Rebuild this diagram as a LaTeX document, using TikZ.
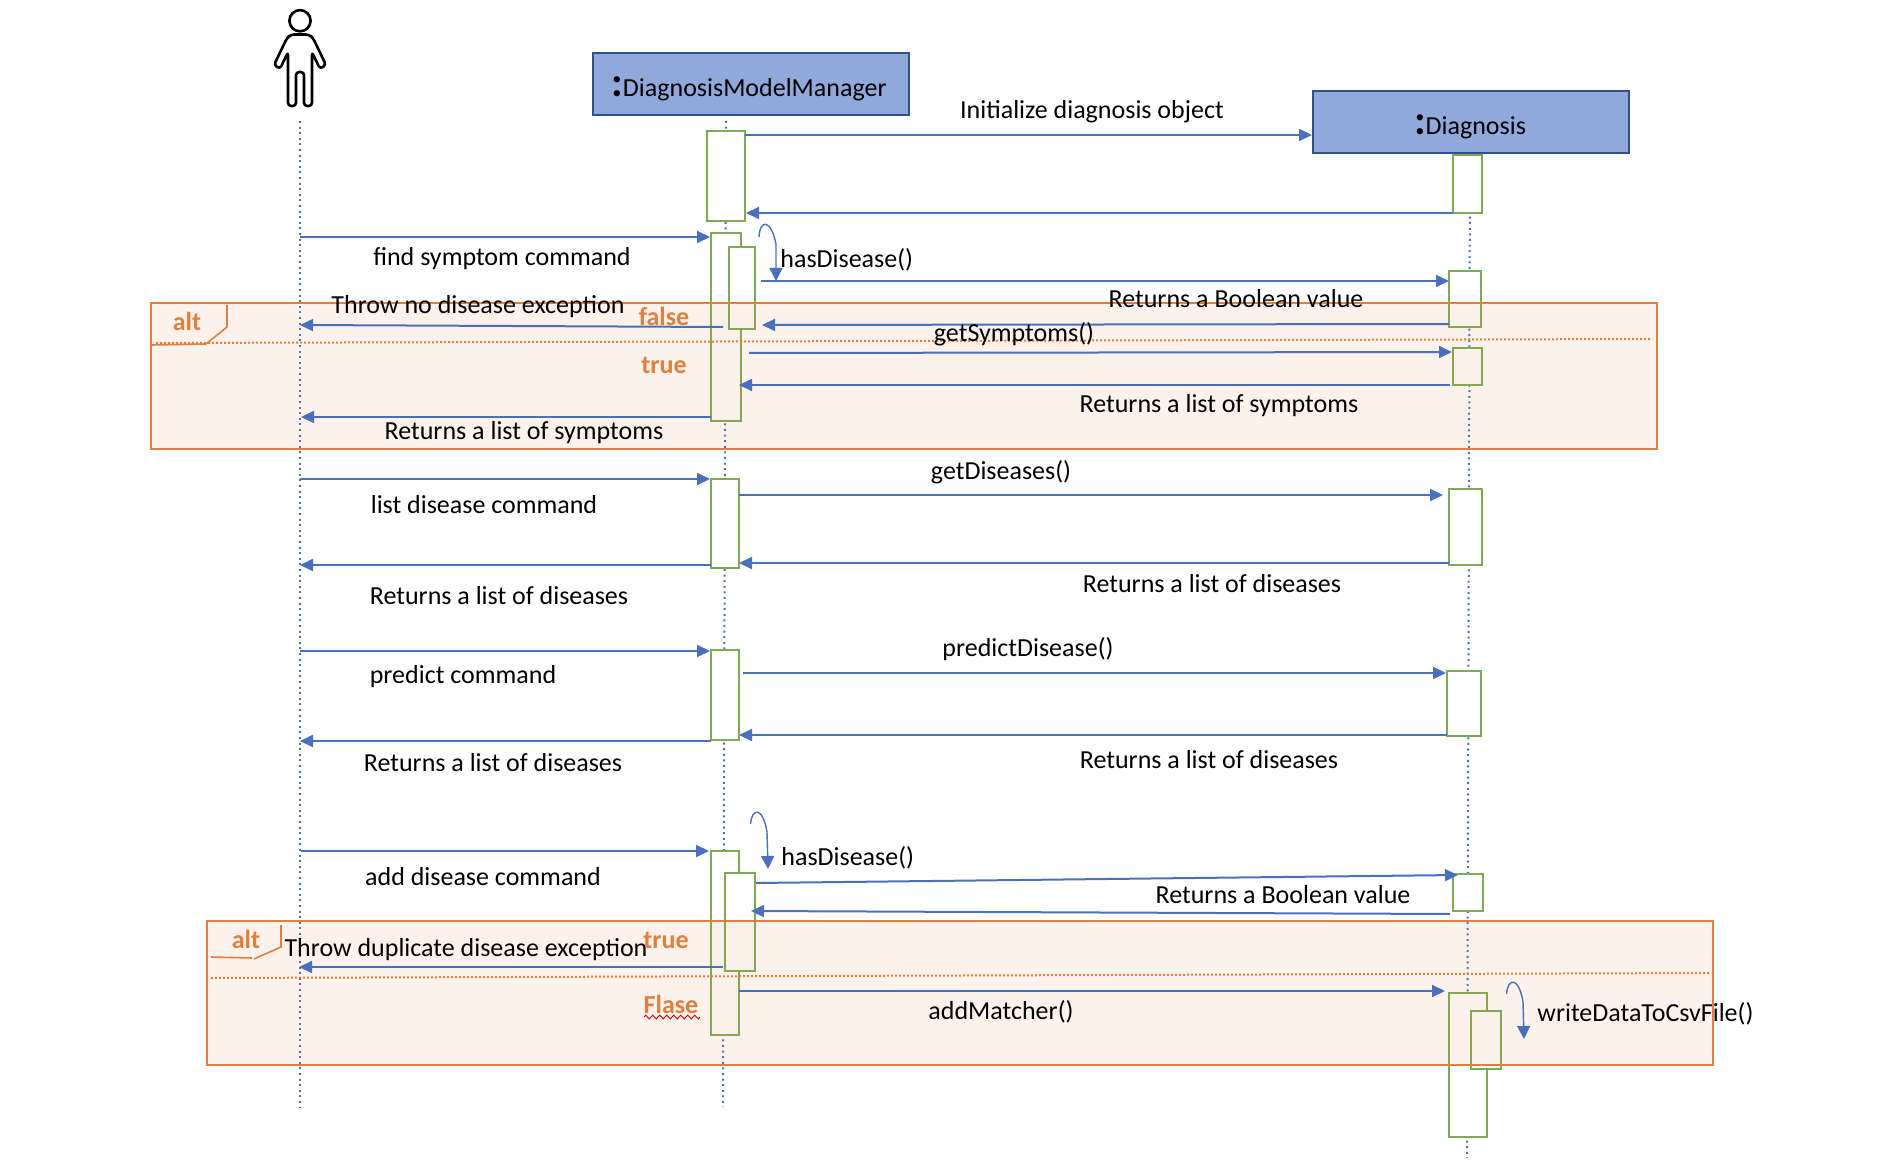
\documentclass[tikz,border=0pt]{standalone}
\usepackage{fontspec}
\setmainfont{Carlito}
\usetikzlibrary{arrows.meta,decorations.pathmorphing}
\definecolor{msgblue}{HTML}{4A6FBF}
\definecolor{actgreen}{HTML}{7DAB55}
\definecolor{altorange}{HTML}{E07F3E}
\definecolor{boxblue}{HTML}{90A9DA}
\definecolor{boxedge}{HTML}{2F528F}
\tikzset{
  msg/.style={draw=msgblue,line width=1pt,-{Triangle[length=6.5pt,width=6pt]}},
  selfmsg/.style={draw=msgblue,line width=.7pt,-{Triangle[length=6.5pt,width=6.5pt]}},
  lifeline/.style={draw=msgblue,line width=1pt,dash pattern=on 1pt off 1.8pt},
  objbox/.style={draw=boxedge,fill=boxblue,line width=.9pt,inner sep=0pt,minimum width=158pt,minimum height=31pt},
  objtext/.style={inner sep=0pt,font=\fontsize{13}{15}\selectfont},
  act/.style={draw=actgreen,fill=white,line width=1.1pt,inner sep=0pt},
  altbox/.style={draw=altorange,fill=altorange,fill opacity=.1,draw opacity=1,line width=1pt,inner sep=0pt,minimum width=753pt},
  altline/.style={draw=altorange,line width=.8pt},
  altsep/.style={draw=altorange,line width=1pt,dash pattern=on 1pt off 1pt},
  lbl/.style={inner sep=0pt,yshift=-.5pt,font=\fontsize{13}{15}\selectfont},
  guard/.style={inner sep=0pt,text=altorange,font=\fontsize{13}{15}\selectfont\bfseries},
}
\newcommand{\bigcolon}{{\fontsize{21}{21}\selectfont\bfseries:}}
\begin{document}
\begin{tikzpicture}[x=.5pt,y=-.5pt]
  \useasboundingbox (0,0) rectangle (1896,1160);
  % actor
  \draw[line width=1.3pt] (300,20.7) circle (5.3pt);
  \draw[line width=1.3pt,rounded corners=1.6pt,line join=round]
    (291,34.5) -- (309,34.5) -- (313,38) -- (326,65) -- (320,69) -- (312,52) -- (312,106)
    -- (304,106) -- (304,72) -- (296,72) -- (296,106) -- (288,106) -- (288,52)
    -- (280,69) -- (274,65) -- (287,38) -- cycle;
  % lifelines
  \coordinate (userTop) at (300,121);
  \coordinate (userBot) at (300,1107);
  \coordinate (dmmTop) at (726,121);
  \coordinate (dmmBot) at (723,1107);
  \coordinate (diagTop) at (1470,155);
  \coordinate (diagBot) at (1467,1158);
  \draw[lifeline] (userTop) -- (userBot);
  \draw[lifeline] (dmmTop) -- (dmmBot);
  \draw[lifeline] (diagTop) -- (diagBot);
  % objects
  \node[objbox] (dmmBox) at (751,84) {};
  \node[objbox] (diagBox) at (1471,122) {};
  \node[objtext] (dmmName) at (749,89) {\bigcolon DiagnosisModelManager};
  \node[objtext] (diagName) at (1470,127) {\bigcolon Diagnosis};
  % activation bars
  \node[act,minimum width=19pt,minimum height=45pt] (dmmInit) at (726,176) {};
  \node[act,minimum width=14.5pt,minimum height=29pt] (diagInit) at (1467.5,184) {};
  \node[act,minimum width=15pt,minimum height=94pt] (dmmFind) at (726,327) {};
  \node[act,minimum width=13pt,minimum height=41pt] (dmmHas) at (742,288) {};
  \node[act,minimum width=16pt,minimum height=28pt] (diagHas) at (1465,299) {};
  \node[act,minimum width=14.5pt,minimum height=18.5pt] (diagSym) at (1467.5,366.5) {};
  \node[act,minimum width=14pt,minimum height=44.5pt] (dmmList) at (725,523.5) {};
  \node[act,minimum width=16.5pt,minimum height=38pt] (diagList) at (1465.5,527) {};
  \node[act,minimum width=14pt,minimum height=44.75pt] (dmmPred) at (725,695) {};
  \node[act,minimum width=17pt,minimum height=32.5pt] (diagPred) at (1464,703.5) {};
  \node[act,minimum width=14pt,minimum height=92pt] (dmmAdd) at (725,943) {};
  \node[act,minimum width=15pt,minimum height=49pt] (dmmDup) at (740,922) {};
  \node[act,minimum width=15pt,minimum height=18.5pt] (diagDup) at (1468,892.5) {};
  \node[act,minimum width=19pt,minimum height=72pt] (diagAdd) at (1468,1065) {};
  \node[act,minimum width=15pt,minimum height=29pt] (diagWrite) at (1486,1040) {};
  % alt frames
  \node[altbox,minimum height=73pt] (altSym) at (904,376) {};
  \node[altbox,minimum height=72pt] (altDup) at (960,993) {};
  \coordinate (symTabA) at (227,305);
  \coordinate (symTabB) at (227,327);
  \coordinate (symTabC) at (206,344);
  \coordinate (symTabD) at (151,345);
  \draw[altline] (symTabA) -- (symTabB) -- (symTabC) -- (symTabD);
  \coordinate (symSepA) at (156,343);
  \coordinate (symSepB) at (1652,339);
  \draw[altsep] (symSepA) -- (symSepB);
  \coordinate (dupTabA) at (281,925);
  \coordinate (dupTabB) at (281,947);
  \coordinate (dupTabC) at (254,959);
  \coordinate (dupTabD) at (252,958);
  \coordinate (dupTabE) at (211,957);
  \draw[altline] (dupTabA) -- (dupTabB) -- (dupTabC);
  \draw[altline] (dupTabD) -- (dupTabE);
  \coordinate (dupSepA) at (211,978);
  \coordinate (dupSepB) at (1710,973);
  \draw[altsep] (dupSepA) -- (dupSepB);
  % messages, top block
  \coordinate (initA) at (745,135);
  \coordinate (initB) at (1312,135);
  \draw[msg] (initA) -- (initB);
  \coordinate (initRetA) at (1453,213);
  \coordinate (initRetB) at (746,213);
  \draw[msg] (initRetA) -- (initRetB);
  \coordinate (findA) at (300,237);
  \coordinate (findB) at (710,237);
  \draw[msg] (findA) -- (findB);
  \coordinate (hasA) at (761,281);
  \coordinate (hasB) at (1449,281);
  \draw[msg] (hasA) -- (hasB);
  \coordinate (boolRetA) at (1449,324);
  \coordinate (boolRetB) at (762,325);
  \draw[msg] (boolRetA) -- (boolRetB);
  \coordinate (throwA) at (723,327);
  \coordinate (throwB) at (300,325);
  \draw[msg] (throwA) -- (throwB);
  \coordinate (symA) at (749,353);
  \coordinate (symB) at (1452,352);
  \draw[msg] (symA) -- (symB);
  \coordinate (symRetA) at (1450,385);
  \coordinate (symRetB) at (739,385);
  \draw[msg] (symRetA) -- (symRetB);
  \coordinate (symUserA) at (711,417);
  \coordinate (symUserB) at (301,417);
  \draw[msg] (symUserA) -- (symUserB);
  % messages, list and predict
  \coordinate (listA) at (300,479);
  \coordinate (listB) at (710,479);
  \draw[msg] (listA) -- (listB);
  \coordinate (getDisA) at (739,495);
  \coordinate (getDisB) at (1443,495);
  \draw[msg] (getDisA) -- (getDisB);
  \coordinate (disRetA) at (1449,563);
  \coordinate (disRetB) at (739,563);
  \draw[msg] (disRetA) -- (disRetB);
  \coordinate (disUserA) at (711,565);
  \coordinate (disUserB) at (300,565);
  \draw[msg] (disUserA) -- (disUserB);
  \coordinate (predA) at (300,651);
  \coordinate (predB) at (710,651);
  \draw[msg] (predA) -- (predB);
  \coordinate (predDisA) at (743,673);
  \coordinate (predDisB) at (1446,673);
  \draw[msg] (predDisA) -- (predDisB);
  \coordinate (predRetA) at (1447,735);
  \coordinate (predRetB) at (739,735);
  \draw[msg] (predRetA) -- (predRetB);
  \coordinate (predUserA) at (711,741);
  \coordinate (predUserB) at (300,741);
  \draw[msg] (predUserA) -- (predUserB);
  % messages, add
  \coordinate (addA) at (301,851);
  \coordinate (addB) at (709,851);
  \draw[msg] (addA) -- (addB);
  \coordinate (has2A) at (756,883);
  \coordinate (has2B) at (1458,875);
  \draw[msg] (has2A) -- (has2B);
  \coordinate (bool2A) at (1450,914);
  \coordinate (bool2B) at (751,911);
  \draw[msg] (bool2A) -- (bool2B);
  \coordinate (dupA) at (723,967);
  \coordinate (dupB) at (299,967);
  \draw[msg] (dupA) -- (dupB);
  \coordinate (matchA) at (739,991);
  \coordinate (matchB) at (1445,991);
  \draw[msg] (matchA) -- (matchB);
  % self calls
  \coordinate (self1A) at (759,237);
  \coordinate (self1B) at (776,281);
  \draw[selfmsg] (self1A) .. controls (760,219) and (771,219) .. (776,244) -- (self1B);
  \coordinate (self2A) at (750.5,824);
  \coordinate (self2B) at (768,869);
  \draw[selfmsg] (self2A) .. controls (752,807) and (763,807) .. (767,832) -- (self2B);
  \coordinate (self3A) at (1506.5,994);
  \coordinate (self3B) at (1524,1039);
  \draw[selfmsg] (self3A) .. controls (1508,977) and (1519,977) .. (1523,1002) -- (self3B);
  % labels
  \node[lbl] (lblInit) at (1092,111) {Initialize diagnosis object};
  \node[lbl] (lblFind) at (502,258) {find symptom command};
  \node[lbl,anchor=west] (lblHas) at (780,259) {hasDisease()};
  \node[lbl] (lblBool) at (1236,298) {Returns a Boolean value};
  \node[lbl] (lblThrow) at (478,306) {Throw no disease exception};
  \node[lbl] (lblSym) at (1014,333) {getSymptoms()};
  \node[lbl] (lblSymRet) at (1219,405) {Returns a list of symptoms};
  \node[lbl] (lblSymUser) at (524,432) {Returns a list of symptoms};
  \node[lbl] (lblGetDis) at (1001,471) {getDiseases()};
  \node[lbl] (lblList) at (484,504) {list disease command};
  \node[lbl] (lblDisRet) at (1212,583) {Returns a list of diseases};
  \node[lbl] (lblDisUser) at (499,595) {Returns a list of diseases};
  \node[lbl] (lblPredDis) at (1028,648) {predictDisease()};
  \node[lbl] (lblPred) at (463,676) {predict command};
  \node[lbl] (lblPredRet) at (1209,759) {Returns a list of diseases};
  \node[lbl] (lblPredUser) at (493,762) {Returns a list of diseases};
  \node[lbl,anchor=west] (lblHas2) at (781,857) {hasDisease()};
  \node[lbl] (lblAdd) at (483,876) {add disease command};
  \node[lbl] (lblBool2) at (1283,894) {Returns a Boolean value};
  \node[lbl] (lblDup) at (466,949) {Throw duplicate disease exception};
  \node[lbl] (lblMatch) at (1001,1011) {addMatcher()};
  \node[lbl,anchor=west] (lblWrite) at (1537,1013) {writeDataToCsvFile()};
  % guards
  \node[guard] (altSymTag) at (187,321) {alt};
  \node[guard] (symFalse) at (664,316) {false};
  \node[guard] (symTrue) at (664,365) {true};
  \node[guard] (altDupTag) at (246,939) {alt};
  \node[guard] (dupTrue) at (666,940) {true};
  \node[guard] (dupFalse) at (671,1004) {Flase};
  \coordinate (squigA) at (644,1017);
  \coordinate (squigB) at (700,1017);
  \draw[red!80!black,line width=.5pt,decorate,decoration={zigzag,amplitude=.9pt,segment length=3.5pt}] (squigA) -- (squigB);
\end{tikzpicture}
\end{document}
